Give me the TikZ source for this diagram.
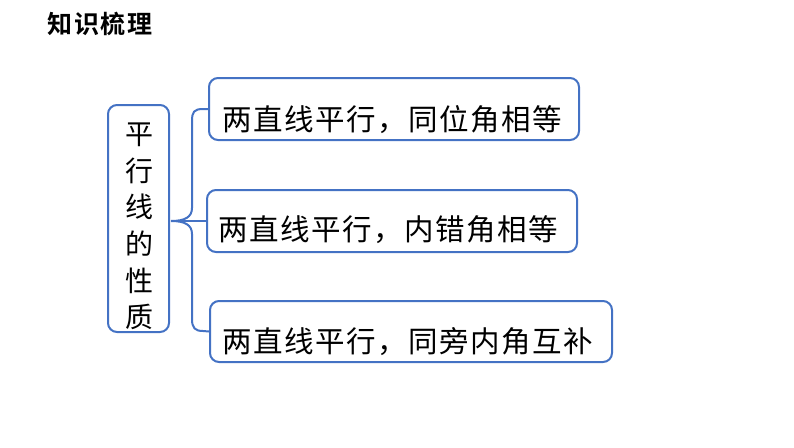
\documentclass[tikz,border=0pt]{standalone}
\usepackage{fontspec}
\setmainfont{Noto Sans CJK SC}[BoldFont={Noto Sans CJK SC Bold}]
\definecolor{lineblue}{RGB}{68,114,196}
\makeatletter
\def\spc#1#2{\def\spc@k{#1}\spc@a#2\relax}
\def\spc@a#1#2{#1\ifx#2\relax\else\kern\spc@k\expandafter\spc@a\expandafter#2\fi}
\makeatother
\tikzset{
  box/.style={draw=lineblue, line width=2pt, rounded corners=9pt, fill=white},
  conn/.style={draw=lineblue, line width=2pt},
  itemtext/.style={font=\fontsize{29.5}{32}\selectfont, inner sep=0pt, anchor=center},
}
\begin{document}
\begin{tikzpicture}[x=1pt,y=-1pt]
\useasboundingbox (0,0) rectangle (794,447);
\node[font=\fontsize{25}{28}\selectfont\bfseries, inner sep=0pt] (title) at (100,24) {\spc{1.5pt}{知识梳理}};
% left box
\node[box, minimum width=61pt, minimum height=227pt, inner sep=0pt] (lb) at (138.5,218.5) {};
\node[font=\fontsize{28}{36.7}\selectfont, align=center, inner sep=0pt] (lt) at (139,226.5) {平\\行\\线\\的\\性\\质};
% right boxes
\node[box, minimum width=370pt, minimum height=62pt, inner sep=0pt] (b1) at (394,109) {};
\node[box, minimum width=370pt, minimum height=62pt, inner sep=0pt] (b2) at (392,221) {};
\node[box, minimum width=402pt, minimum height=61pt, inner sep=0pt] (b3) at (411,331.5) {};
\node[itemtext] (t1) at (392.5,120) {\spc{1.5pt}{两直线平行，同位角相等}};
\node[itemtext] (t2) at (388.5,230) {\spc{1.5pt}{两直线平行，内错角相等}};
\node[itemtext] (t3) at (407.5,342) {\spc{1.5pt}{两直线平行，同旁内角互补}};
% brace
\coordinate (tip) at (171,221);
\draw[conn] (b1.west) -- (203,109) .. controls (194,109) and (192,112) .. (192,121)
  -- (192,208) .. controls (192,217) and (185,221) .. (tip)
  .. controls (185,221) and (192,225) .. (192,234)
  -- (192,319) .. controls (192,328) and (195,331) .. (203,331) -- (b3.west);
\draw[conn] (tip) -- (b2.west);
\end{tikzpicture}
\end{document}
